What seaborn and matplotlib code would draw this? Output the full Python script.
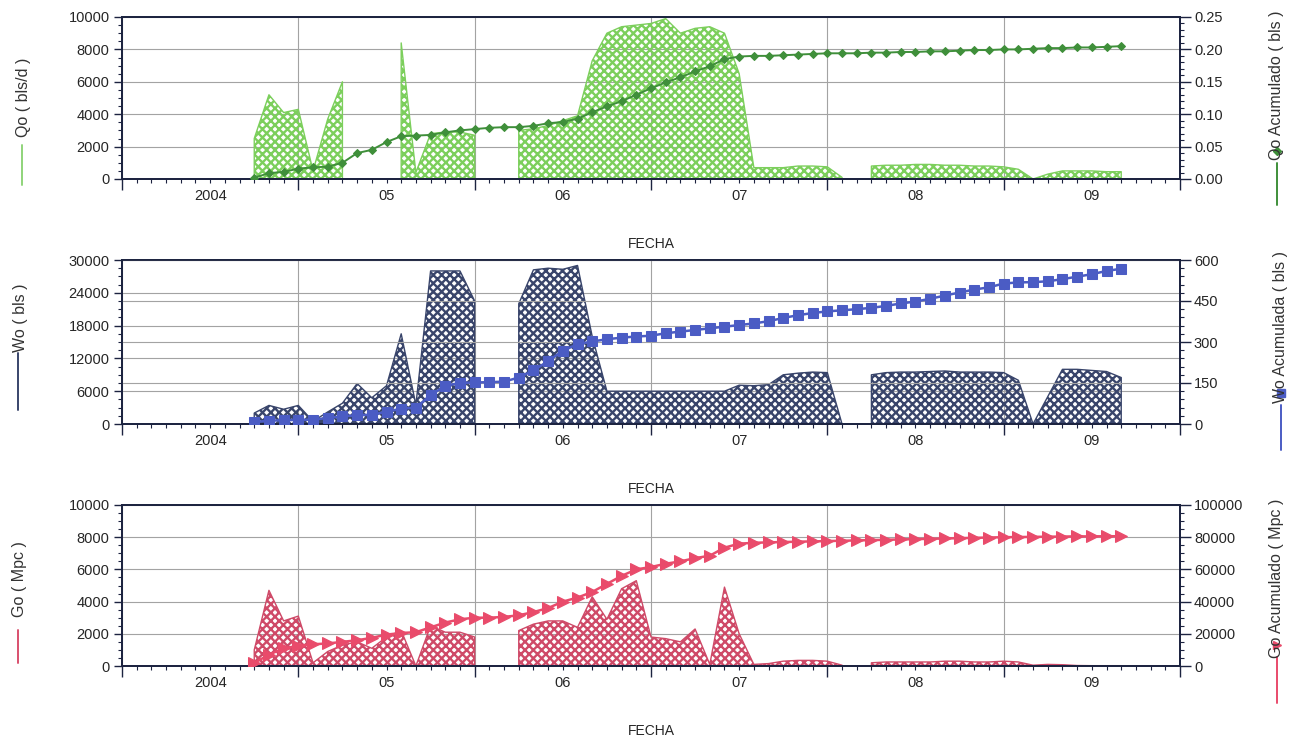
"""Produccion del pozo: Qo, Wo, Go y acumulados"""
import numpy as np
import pandas as pd
import matplotlib
matplotlib.use("Agg")
import matplotlib.pyplot as plt
import seaborn as sns
from matplotlib.ticker import FixedLocator, MultipleLocator, FuncFormatter, NullFormatter
from matplotlib.lines import Line2D

nan = np.nan

# meses desde ene-2004 (abr-2004 .. mar-2009)
meses = list(range(3, 63))
year_ticks = [0, 12, 24, 36, 48, 60]
year_labels = ["2004", "05", "06", "07", "08", "09"]
grid_ticks = [-6, 6, 18, 30, 42, 54, 66]

qo = [2500, 5200, 4100, 4300, 500, 3700, 6000, nan, nan, nan,
      8400, 400, 2800, 2900, 2900, 2700, nan, nan, 3000, 3100,
      3300, 3600, 3900, 7300, 9000, 9400, 9500, 9600, 9900, 9000,
      9300, 9400, 9000, 6500, 700, 700, 700, 800, 800, 750,
      100, nan, 800, 850, 850, 900, 900, 850, 850, 800,
      800, 750, 600, 0, 300, 500, 500, 500, 450, 450]
qo_acum = [0.002, 0.009, 0.011, 0.016, 0.018, 0.019, 0.025, 0.040, 0.045, 0.057,
           0.066, 0.067, 0.068, 0.072, 0.075, 0.077, 0.079, 0.080, 0.080, 0.082,
           0.086, 0.088, 0.093, 0.103, 0.112, 0.120, 0.130, 0.140, 0.149, 0.157,
           0.166, 0.174, 0.185, 0.189, 0.190, 0.190, 0.191, 0.192, 0.193, 0.194,
           0.194, 0.194, 0.195, 0.195, 0.196, 0.196, 0.197, 0.197, 0.198, 0.199,
           0.199, 0.200, 0.200, 0.201, 0.202, 0.202, 0.203, 0.203, 0.204, 0.205]

wo = [2000, 3400, 2700, 3400, 500, 2200, 3800, 7400, 4800, 7000,
      16500, 3500, 28000, 28000, 28000, 22500, nan, nan, 22000, 28200,
      28500, 28300, 29000, 16000, 6000, 6000, 6000, 6000, 6000, 6000,
      6000, 6000, 6000, 7100, 7000, 7200, 9000, 9300, 9500, 9400,
      0, nan, 9000, 9400, 9500, 9500, 9600, 9700, 9500, 9500,
      9500, 9400, 8000, 0, 5000, 10000, 10000, 9800, 9600, 8500]
wo_acum = [7, 12, 14, 15, 16, 22, 28, 32, 34, 45,
           56, 60, 105, 140, 150, 152, 153, 155, 170, 196,
           230, 268, 292, 302, 310, 316, 320, 323, 332, 338,
           344, 350, 356, 362, 368, 376, 388, 398, 406, 412,
           416, 420, 425, 432, 441, 448, 458, 470, 481, 492,
           500, 514, 518, 519, 522, 530, 539, 548, 560, 568]

go = [1000, 4700, 2800, 3100, 200, 900, 1300, 1500, 1100, 1800,
      2200, 0, 2500, 2100, 2100, 1800, nan, nan, 2200, 2600,
      2800, 2800, 2400, 4300, 2900, 4800, 5300, 1800, 1700, 1500,
      2300, 100, 4900, 2000, 100, 150, 300, 350, 350, 300,
      50, nan, 200, 250, 250, 250, 250, 300, 300, 250,
      250, 300, 250, 50, 100, 80, 30, 20, 20, 20]
go_acum = [1900, 7000, 11000, 12500, 13500, 14000, 15000, 16000, 17500, 19500,
           20500, 21000, 24000, 27000, 29000, 30000, 30000, 30500, 31500, 33500,
           36000, 40000, 42500, 46000, 51000, 56000, 60000, 61500, 63500, 65000,
           67000, 68500, 73500, 76000, 76500, 76800, 77000, 77200, 77400, 77600,
           77800, 78000, 78200, 78400, 78600, 78800, 79000, 79200, 79400, 79600,
           79800, 80000, 80100, 80200, 80300, 80400, 80500, 80500, 80600, 80600]

sns.set_theme(style="ticks")
plt.rcParams["font.family"] = ["Liberation Sans", "DejaVu Sans"]
plt.rcParams["hatch.linewidth"] = 1.7

W, H = 1301, 738
fig = plt.figure(figsize=(W / 100, H / 100), dpi=100)
fig.patch.set_facecolor("white")

SPINE = "#1c2340"
GRID = "#a3a3a3"


def year_fmt(v, pos):
    m = int(round(v))
    if m in year_ticks:
        return year_labels[year_ticks.index(m)]
    return ""


def fx(x):
    return x / W


def fy(y):
    return 1 - y / H


panels = [
    dict(rect=[122, 17, 1180, 179], rate=qo, acum=qo_acum,
         fill="#7ccf5c", acol="#3f8f3a", marker="D", ms=4.5, lw=1.4,
         lmax=10000, lstep=2000, lminor=500, rmax=0.25, rstep=0.05, rminor=0.01,
         rfmt="%.2f", rgrid=False,
         llabel="Qo ( bls/d )", lx=24, ly=97, lline=(145, 185), lcol="#8fd47a",
         rlabel="Qo Acumulado ( bls )", rx=1277, ry=85, rline=(163, 205)),
    dict(rect=[122, 260, 1180, 424], rate=wo, acum=wo_acum,
         fill="#39456b", acol="#4b5cc4", marker="s", ms=6.5, lw=1.8,
         lmax=30000, lstep=6000, lminor=1500, rmax=600, rstep=150, rminor=30,
         rfmt="%d", rgrid=True,
         llabel="Wo ( bls )", lx=20, ly=318, lline=(353, 410), lcol="#39456b",
         rlabel="Wo Acumulada ( bls )", rx=1281, ry=327, rline=(405, 450)),
    dict(rect=[122, 505, 1180, 666], rate=go, acum=go_acum,
         fill="#cf4a68", acol="#e94b6b", marker=">", ms=8, lw=1.8,
         lmax=10000, lstep=2000, lminor=500, rmax=100000, rstep=20000, rminor=5000,
         rfmt="%d", rgrid=False,
         llabel="Go ( Mpc )", lx=20, ly=579, lline=(630, 663), lcol="#d9506e",
         rlabel="Go Acumulado ( Mpc )", rx=1277, ry=578, rline=(657, 703)),
]

for p in panels:
    x0, y0, x1, y1 = p["rect"]
    ax = fig.add_axes([fx(x0), fy(y1), (x1 - x0) / W, (y1 - y0) / H])
    rate = np.array(p["rate"], dtype=float)
    ax.fill_between(meses, 0, rate, facecolor="none", edgecolor=p["fill"],
                    hatch="xxxx", linewidth=1.0, zorder=2)

    ax2 = ax.twinx()
    df = pd.DataFrame({"FECHA": meses, "acum": p["acum"]})
    sns.lineplot(data=df, x="FECHA", y="acum", ax=ax2, color=p["acol"],
                 marker=p["marker"], markersize=p["ms"],
                 markeredgecolor=p["acol"], linewidth=p["lw"], zorder=3)

    # eje x
    ax.set_xlim(-6, 66)
    ax.xaxis.set_major_locator(FixedLocator(grid_ticks))
    ax.xaxis.set_major_formatter(NullFormatter())
    ax.xaxis.set_minor_locator(MultipleLocator(1))
    ax.xaxis.set_minor_formatter(FuncFormatter(year_fmt))
    ax.tick_params(axis="x", which="major", length=8, width=1, direction="out",
                   color=SPINE, bottom=True)
    ax.tick_params(axis="x", which="minor", length=3, width=0.8, direction="out",
                   color=SPINE, labelsize=10.5, pad=4, bottom=True)
    ax.set_xlabel("FECHA", fontsize=10)
    ax.xaxis.set_label_coords(0.5, -58 / (y1 - y0))

    # eje izquierdo
    ax.set_ylim(0, p["lmax"])
    ax.set_yticks(np.arange(0, p["lmax"] + 1, p["lstep"]))
    ax.yaxis.set_minor_locator(MultipleLocator(p["lminor"]))
    ax.tick_params(axis="y", which="major", length=6, width=1, direction="out",
                   color=SPINE, labelsize=10.5, pad=3, left=True)
    ax.tick_params(axis="y", which="minor", length=3, width=0.8, direction="out",
                   color=SPINE, left=True)
    ax.set_ylabel("")

    # eje derecho
    ax2.set_ylim(0, p["rmax"])
    ax2.set_yticks(np.arange(0, p["rmax"] * 1.0001, p["rstep"]))
    ax2.yaxis.set_major_formatter(plt.FormatStrFormatter(p["rfmt"]))
    ax2.yaxis.set_minor_locator(MultipleLocator(p["rminor"]))
    ax2.tick_params(axis="y", which="major", length=8, width=1, direction="out",
                    color=SPINE, labelsize=10.5, pad=2, right=True)
    ax2.tick_params(axis="y", which="minor", length=3, width=0.8, direction="out",
                    color=SPINE, right=True)
    ax2.set_ylabel("")
    ax2.set_xlabel("")

    ax.grid(True, which="major", color=GRID, linewidth=0.8)
    ax.set_axisbelow(True)
    if p["rgrid"]:
        ax2.grid(True, which="major", axis="y", color=GRID, linewidth=0.8)
        ax2.set_axisbelow(True)

    for a in (ax, ax2):
        for s in a.spines.values():
            s.set_color(SPINE)
            s.set_linewidth(1.3)
            s.set_visible(True)

    # etiquetas tipo leyenda
    fig.text(fx(p["lx"]), fy(p["ly"]), p["llabel"], rotation=90, fontsize=11.5,
             ha="center", va="center", color="#333333")
    l0, l1 = p["lline"]
    fig.add_artist(Line2D([fx(p["lx"] - 2)] * 2, [fy(l0), fy(l1)],
                          color=p["lcol"], linewidth=1.4))
    fig.text(fx(p["rx"]), fy(p["ry"]), p["rlabel"], rotation=90, fontsize=11.5,
             ha="center", va="center", color="#333333")
    r0, r1 = p["rline"]
    fig.add_artist(Line2D([fx(p["rx"])] * 2, [fy(r0), fy(r1)],
                          color=p["acol"], linewidth=1.4))
    fig.add_artist(Line2D([fx(p["rx"])], [fy(r0 - 12)], color=p["acol"],
                          marker=p["marker"], markersize=p["ms"] * 0.8,
                          linestyle="none"))

fig.savefig("out.png", dpi=100, facecolor="white")
